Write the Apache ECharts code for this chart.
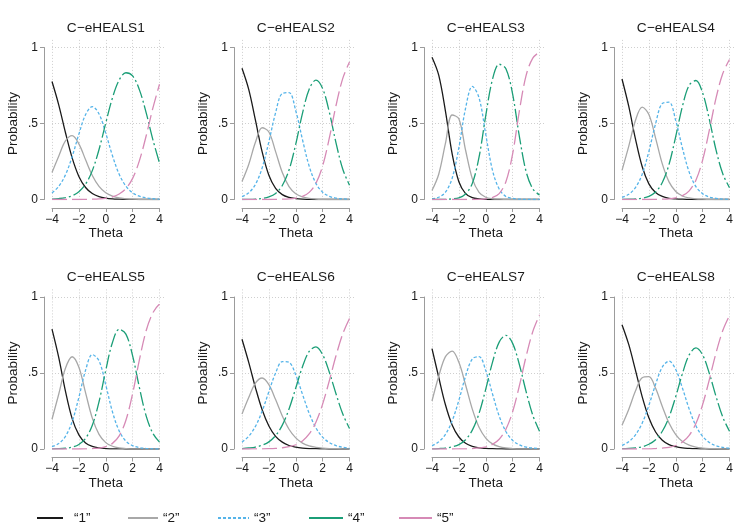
<!DOCTYPE html>
<html><head><meta charset="utf-8">
<script src="https://cdn.jsdelivr.net/npm/echarts@6/dist/echarts.min.js"></script>
<style>html,body{margin:0;padding:0;background:#fff}#c{width:746px;height:529px}</style>
</head><body><div id="c"></div>
<script>
// ---------- data ----------
const theta = [-4,-3.5,-3,-2.5,-2,-1.5,-1,-0.5,0,0.5,1,1.5,2,2.5,3,3.5,4];
const itemTitles = ['C\u2212eHEALS1','C\u2212eHEALS2','C\u2212eHEALS3','C\u2212eHEALS4','C\u2212eHEALS5','C\u2212eHEALS6','C\u2212eHEALS7','C\u2212eHEALS8'];
const categoryNames = ['\u201c1\u201d','\u201c2\u201d','\u201c3\u201d','\u201c4\u201d','\u201c5\u201d'];
const xTickValues = [-4,-2,0,2,4];
const yTickLabels = ['0','.5','1'];

const item1_cat1 = [0.776,0.623,0.441,0.274,0.152,0.079,0.039,0.019,0.009,0.004,0.002,0.001,0.001,0,0,0,0];
const item1_cat2 = [0.178,0.285,0.385,0.420,0.366,0.261,0.158,0.086,0.044,0.022,0.010,0.005,0.002,0.001,0.001,0,0];
const item1_cat3 = [0.043,0.086,0.162,0.282,0.430,0.559,0.611,0.563,0.436,0.288,0.166,0.088,0.044,0.022,0.011,0.005,0.002];
const item1_cat4 = [0.003,0.006,0.012,0.025,0.051,0.101,0.190,0.329,0.503,0.669,0.786,0.834,0.813,0.723,0.573,0.396,0.240];
const item1_cat5 = [0,0,0,0,0,0.001,0.002,0.004,0.008,0.017,0.036,0.072,0.139,0.254,0.416,0.599,0.758];

const item2_cat1 = [0.863,0.724,0.522,0.313,0.159,0.073,0.032,0.014,0.006,0.002,0.001,0,0,0,0,0,0];
const item2_cat2 = [0.118,0.230,0.376,0.472,0.444,0.315,0.177,0.085,0.038,0.017,0.007,0.003,0.001,0,0,0,0];
const item2_cat3 = [0.019,0.044,0.099,0.208,0.380,0.571,0.698,0.703,0.584,0.394,0.219,0.106,0.048,0.021,0.009,0.004,0.002];
const item2_cat4 = [0,0.001,0.003,0.007,0.017,0.040,0.092,0.194,0.364,0.567,0.726,0.785,0.730,0.574,0.371,0.199,0.094];
const item2_cat5 = [0,0,0,0,0,0.001,0.002,0.004,0.009,0.020,0.047,0.106,0.221,0.405,0.620,0.797,0.904];

const item3_cat1 = [0.936,0.818,0.582,0.300,0.117,0.039,0.012,0.004,0.001,0,0,0,0,0,0,0,0];
const item3_cat2 = [0.059,0.166,0.369,0.556,0.531,0.324,0.137,0.047,0.015,0.005,0.002,0.001,0,0,0,0,0];
const item3_cat3 = [0.005,0.015,0.048,0.140,0.341,0.601,0.744,0.670,0.428,0.193,0.069,0.020,0.007,0.002,0.001,0,0];
const item3_cat4 = [0,0,0.001,0.004,0.011,0.036,0.106,0.278,0.552,0.790,0.890,0.860,0.693,0.416,0.185,0.070,0.030];
const item3_cat5 = [0,0,0,0,0,0,0,0.001,0.004,0.013,0.039,0.117,0.300,0.582,0.815,0.930,0.970];

const item4_cat1 = [0.793,0.614,0.399,0.217,0.103,0.046,0.020,0.008,0.004,0.002,0.001,0,0,0,0,0,0];
const item4_cat2 = [0.192,0.350,0.520,0.608,0.559,0.404,0.234,0.116,0.053,0.023,0.010,0.004,0.002,0.001,0,0,0];
const item4_cat3 = [0.014,0.034,0.078,0.166,0.316,0.499,0.632,0.640,0.519,0.337,0.180,0.085,0.038,0.016,0.007,0.003,0.001];
const item4_cat4 = [0.001,0.002,0.004,0.009,0.021,0.049,0.112,0.231,0.415,0.614,0.752,0.783,0.702,0.527,0.325,0.169,0.078];
const item4_cat5 = [0,0,0,0,0,0.001,0.002,0.004,0.011,0.025,0.057,0.127,0.259,0.456,0.668,0.829,0.921];

const item5_cat1 = [0.789,0.603,0.381,0.200,0.093,0.040,0.017,0.007,0.003,0.001,0.001,0,0,0,0,0,0];
const item5_cat2 = [0.196,0.360,0.531,0.607,0.538,0.369,0.203,0.096,0.042,0.018,0.007,0.003,0.001,0.001,0,0,0];
const item5_cat3 = [0.015,0.036,0.083,0.180,0.340,0.519,0.621,0.580,0.422,0.244,0.119,0.052,0.022,0.009,0.004,0.001,0];
const item5_cat4 = [0.001,0.002,0.005,0.012,0.030,0.070,0.156,0.311,0.518,0.701,0.787,0.756,0.613,0.406,0.220,0.104,0.045];
const item5_cat5 = [0,0,0,0,0,0.001,0.003,0.006,0.015,0.037,0.086,0.189,0.364,0.585,0.776,0.895,0.954];

const item6_cat1 = [0.722,0.570,0.404,0.258,0.151,0.083,0.045,0.023,0.012,0.006,0.003,0.002,0.001,0,0,0,0];
const item6_cat2 = [0.230,0.339,0.433,0.467,0.423,0.325,0.217,0.130,0.073,0.039,0.020,0.011,0.006,0.003,0.002,0.001,0];
const item6_cat3 = [0.045,0.084,0.149,0.250,0.377,0.500,0.575,0.570,0.487,0.360,0.235,0.139,0.078,0.042,0.022,0.011,0.006];
const item6_cat4 = [0.003,0.007,0.013,0.025,0.047,0.088,0.157,0.263,0.401,0.541,0.642,0.672,0.621,0.505,0.362,0.230,0.135];
const item6_cat5 = [0,0,0.001,0.001,0.002,0.004,0.008,0.015,0.028,0.053,0.099,0.176,0.295,0.450,0.615,0.758,0.859];

const item7_cat1 = [0.661,0.472,0.291,0.158,0.079,0.038,0.018,0.008,0.004,0.002,0.001,0,0,0,0,0,0];
const item7_cat2 = [0.316,0.479,0.608,0.644,0.570,0.421,0.262,0.143,0.072,0.034,0.016,0.007,0.003,0.001,0.001,0,0];
const item7_cat3 = [0.022,0.047,0.096,0.185,0.321,0.479,0.593,0.608,0.516,0.363,0.217,0.115,0.057,0.027,0.013,0.006,0.003];
const item7_cat4 = [0.001,0.003,0.006,0.014,0.029,0.061,0.124,0.234,0.394,0.570,0.703,0.748,0.695,0.556,0.379,0.222,0.117];
const item7_cat5 = [0,0,0,0,0.001,0.001,0.003,0.007,0.014,0.030,0.064,0.130,0.245,0.415,0.608,0.772,0.881];

const item8_cat1 = [0.818,0.688,0.519,0.345,0.205,0.112,0.058,0.029,0.015,0.007,0.004,0.002,0.001,0,0,0,0];
const item8_cat2 = [0.156,0.260,0.381,0.469,0.476,0.399,0.280,0.171,0.095,0.049,0.025,0.012,0.006,0.003,0.002,0.001,0];
const item8_cat3 = [0.024,0.048,0.093,0.170,0.287,0.425,0.539,0.578,0.523,0.400,0.263,0.153,0.083,0.043,0.021,0.011,0.005];
const item8_cat4 = [0.002,0.004,0.008,0.015,0.031,0.061,0.117,0.210,0.345,0.497,0.619,0.665,0.619,0.497,0.345,0.210,0.117];
const item8_cat5 = [0,0,0,0.001,0.001,0.003,0.006,0.011,0.023,0.046,0.090,0.168,0.292,0.457,0.633,0.779,0.878];

const panels = [
  [item1_cat1,item1_cat2,item1_cat3,item1_cat4,item1_cat5],
  [item2_cat1,item2_cat2,item2_cat3,item2_cat4,item2_cat5],
  [item3_cat1,item3_cat2,item3_cat3,item3_cat4,item3_cat5],
  [item4_cat1,item4_cat2,item4_cat3,item4_cat4,item4_cat5],
  [item5_cat1,item5_cat2,item5_cat3,item5_cat4,item5_cat5],
  [item6_cat1,item6_cat2,item6_cat3,item6_cat4,item6_cat5],
  [item7_cat1,item7_cat2,item7_cat3,item7_cat4,item7_cat5],
  [item8_cat1,item8_cat2,item8_cat3,item8_cat4,item8_cat5]
];

// ---------- styles / layout ----------
const FONT = '"Liberation Sans", Arial, Helvetica, sans-serif';
const TXT = '#1a1a1a';
const AXC = '#9c9c9c';
const lineColors = ['#1a1a1a','#a8a8a8','#56b4e9','#1b9e77','#d68ab6'];
const lineTypes = ['solid','solid',[3,2],[14,3,2,3],[15,5]];
const lineWidths = [1.3,1.3,1.3,1.3,1.3];
const colLefts = [52,242,432,622];
const rowTops = [47.5,297];
const W = 107.5, H = 152;
const titleTops = [21.5,270.5];

const grid = [], xAxis = [], yAxis = [], series = [], title = [];
panels.forEach((cats, p) => {
  const row = Math.floor(p/4), col = p % 4;
  const L = colLefts[col], T = rowTops[row];
  grid.push({left:L, top:T, width:W, height:H, outerBoundsMode:'none', containLabel:false});
  grid.push({left:L, top:T - H*0.05, width:W*8.45/8, height:H*1.05, outerBoundsMode:'none', containLabel:false});
  const ga = 2*p, gb = 2*p+1;
  title.push({text:itemTitles[p], left:L + W/2, top:titleTops[row], textAlign:'center', padding:0,
    textStyle:{fontFamily:FONT, fontSize:13.7, fontWeight:'normal', color:TXT}});
  xAxis.push({gridIndex:ga, type:'value', min:-4, max:4, interval:2, offset:8.5,
    axisLine:{show:true, onZero:false, lineStyle:{color:AXC, width:1}},
    axisTick:{show:true, length:4, lineStyle:{color:AXC, width:1}},
    axisLabel:{show:true, margin:5.5, fontSize:12, fontFamily:FONT, color:TXT, showMinLabel:true, showMaxLabel:true,
      formatter: v => String(v).replace('-', '\u2212')},
    splitLine:{show:false},
    name:'Theta', nameLocation:'middle', nameGap:18,
    nameTextStyle:{fontFamily:FONT, fontSize:13.5, color:TXT}});
  yAxis.push({gridIndex:ga, type:'value', min:0, max:1, interval:0.5, offset:8,
    axisLine:{show:true, onZero:false, lineStyle:{color:AXC, width:1}},
    axisTick:{show:true, length:4, lineStyle:{color:AXC, width:1}},
    axisLabel:{show:true, margin:6, fontSize:12, fontFamily:FONT, color:TXT, showMinLabel:true, showMaxLabel:true,
      formatter: v => yTickLabels[Math.round(v*2)]},
    splitLine:{show:false},
    name:'Probability', nameLocation:'middle', nameGap:24,
    nameTextStyle:{fontFamily:FONT, fontSize:13.5, color:TXT}});
  xAxis.push({gridIndex:gb, type:'value', min:-4, max:4.45, interval:2,
    axisLine:{show:false}, axisTick:{show:false}, axisLabel:{show:false},
    splitLine:{show:true, showMinLine:true, showMaxLine:false, lineStyle:{color:'#cfcfcf', width:1, type:[1,2]}}});
  yAxis.push({gridIndex:gb, type:'value', min:0, max:1.05, interval:0.5,
    axisLine:{show:false}, axisTick:{show:false}, axisLabel:{show:false},
    splitLine:{show:true, showMinLine:false, showMaxLine:false, lineStyle:{color:'#cfcfcf', width:1, type:[1,2]}}});
  cats.forEach((vals, k) => {
    series.push({type:'line', name:categoryNames[k], xAxisIndex:ga, yAxisIndex:ga,
      data: theta.map((t,i) => [t, vals[i]]),
      smooth:0.35, symbol:'none', showSymbol:false, silent:true, z:2+k*0.01,
      color: lineColors[k], itemStyle:{color:lineColors[k]},
      lineStyle:{color:lineColors[k], width:lineWidths[k], type:lineTypes[k]}});
  });
});

const legendLefts = [36,127,217,308,398];
const legendWidths = [26,30,31,34,33];
const legendPads = [6,0,0,0,0];
const legend = categoryNames.map((n,k) => ({
  data:[{name:n, itemStyle:{opacity:0, borderWidth:0}}], left:legendLefts[k], top:511, padding:0,
  itemWidth:legendWidths[k], itemHeight:14,
  selectedMode:false, orient:'horizontal',
  itemStyle:{opacity:0, borderWidth:0},
  textStyle:{fontFamily:FONT, fontSize:13.5, color:TXT, padding:[0,0,0,legendPads[k]]},
  lineStyle: k >= 3 ? {type:'solid'} : {}
}));

const chart = echarts.init(document.getElementById('c'), null, {renderer:'canvas'});
chart.setOption({
  animation:false, backgroundColor:'#ffffff',
  title, grid, xAxis, yAxis, series, legend
});
</script>
</body></html>
